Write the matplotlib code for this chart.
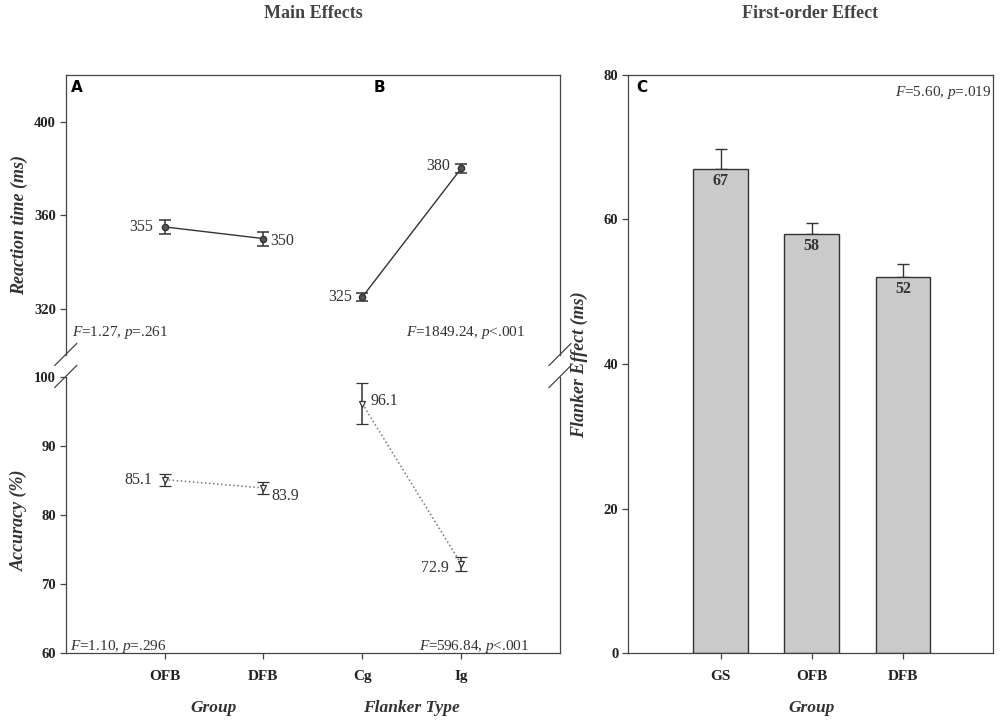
import matplotlib
matplotlib.use("Agg")
import matplotlib.pyplot as plt
import matplotlib.transforms as mtransforms
from matplotlib.lines import Line2D

plt.rcParams['font.family'] = ['Liberation Serif', 'DejaVu Serif']
plt.rcParams['mathtext.fontset'] = 'custom'
plt.rcParams['mathtext.it'] = 'Liberation Serif:italic'
plt.rcParams['mathtext.rm'] = 'Liberation Serif'

# data
left_cats = ["OFB", "DFB", "Cg", "Ig"]
rt_group = [355, 350]
rt_group_err = [2.9, 3.0]
rt_flank = [325, 380]
rt_flank_err = [1.8, 2.1]
acc_group = [85.1, 83.9]
acc_group_err = [0.85, 0.9]
acc_flank = [96.1, 72.9]
acc_flank_err = [3.0, 1.0]

fe_groups = ["GS", "OFB", "DFB"]
fe_vals = [67, 58, 52]
fe_err = [2.7, 1.5, 1.9]

stats_rt = ["$F$=1.27, $p$=.261", "$F$=1849.24, $p$<.001"]
stats_acc = ["$F$=1.10, $p$=.296", "$F$=596.84, $p$<.001"]
stats_fe = "$F$=5.60, $p$=.019"

dark = '#333333'
spine_c = '#444444'

fig = plt.figure(figsize=(10, 7.21), dpi=100)
ax_rt = fig.add_axes([0.0657, 0.507, 0.4943, 0.389])
ax_acc = fig.add_axes([0.0657, 0.0943, 0.4943, 0.3832])
ax_fe = fig.add_axes([0.628, 0.0943, 0.365, 0.8017])

for ax in (ax_rt, ax_acc, ax_fe):
    for s in ax.spines.values():
        s.set_color(spine_c)
        s.set_linewidth(0.9)
    ax.tick_params(axis='y', direction='out', length=4, width=0.9, color=spine_c,
                   labelsize=10.5, pad=3, labelcolor='#222222')
    ax.tick_params(axis='x', direction='out', length=4, width=0.9, color=spine_c,
                   labelsize=11, pad=8, labelcolor='#222222')

# --- reaction time (upper left) ---
xg = [0, 1]
xf = [2, 3]
for xs, ys, es in ((xg, rt_group, rt_group_err), (xf, rt_flank, rt_flank_err)):
    ax_rt.errorbar(xs, ys, yerr=es, fmt='o-', color=dark, lw=1, elinewidth=1.1,
                   capsize=4, capthick=1.1, ms=4.5, mfc='#555555', mec=dark)
ax_rt.set_xlim(-1, 4)
ax_rt.set_ylim(300, 420)
ax_rt.set_yticks([320, 360, 400])
ax_rt.spines['bottom'].set_visible(False)
ax_rt.tick_params(axis='x', bottom=False, labelbottom=False)

# --- accuracy (lower left) ---
for xs, ys, es in ((xg, acc_group, acc_group_err), (xf, acc_flank, acc_flank_err)):
    ax_acc.plot(xs, ys, ls=':', color='#777777', lw=1.1)
    ax_acc.errorbar(xs, ys, yerr=es, fmt='v', color=dark, elinewidth=1.1,
                    capsize=4, capthick=1.1, ms=5, mfc='white', mec=dark, mew=0.9)
ax_acc.set_xlim(-1, 4)
ax_acc.set_ylim(60, 100)
ax_acc.set_yticks([60, 70, 80, 90, 100])
ax_acc.spines['top'].set_visible(False)
ax_acc.set_xticks(range(len(left_cats)))
ax_acc.set_xticklabels(left_cats)

# value labels next to points
rt_off = [(-8, 0, 'right'), (5, -2, 'left'), (-7, 0, 'right'), (-8, 2, 'right')]
acc_off = [(-8.6, 0, 'right'), (5.8, -5.8, 'left'), (5.8, 2, 'left'), (-8.6, -3, 'right')]
for i, v in enumerate(rt_group + rt_flank):
    dx, dy, ha = rt_off[i]
    ax_rt.annotate(str(v), (i, v), xytext=(dx, dy), textcoords='offset points',
                   ha=ha, va='center', fontsize=11.5, color=dark)
for i, v in enumerate(acc_group + acc_flank):
    dx, dy, ha = acc_off[i]
    ax_acc.annotate(str(v), (i, v), xytext=(dx, dy), textcoords='offset points',
                    ha=ha, va='center', fontsize=11.5, color=dark)

ax_rt.text(-0.936, 310, stats_rt[0], ha='left', va='center', fontsize=11, color=dark)
ax_rt.text(3.644, 310, stats_rt[1], ha='right', va='center', fontsize=11, color=dark)
ax_acc.text(-0.956, 61.0, stats_acc[0], ha='left', va='center', fontsize=11, color=dark)
ax_acc.text(3.685, 61.0, stats_acc[1], ha='right', va='center', fontsize=11, color=dark)

# x-axis group labels
blend = mtransforms.blended_transform_factory(ax_acc.transData, fig.transFigure)
ax_acc.text(0.5, 1 - 708 / 721, "Group", transform=blend, ha='center', va='center',
            fontsize=12.5, fontweight='bold', fontstyle='italic', color=dark)
ax_acc.text(2.5, 1 - 708 / 721, "Flanker Type", transform=blend, ha='center', va='center',
            fontsize=12.5, fontweight='bold', fontstyle='italic', color=dark)

# axis break marks
W, H = 1000.0, 721.0
d = 11
for xpx in (65.7, 560):
    for ypx in (354.5, 376.5):
        fig.add_artist(Line2D([(xpx - d) / W, (xpx + d) / W],
                              [1 - (ypx + d) / H, 1 - (ypx - d) / H],
                              transform=fig.transFigure, color=spine_c, lw=0.9))

# --- flanker effect bars (right) ---
xb = list(range(len(fe_groups)))
ax_fe.bar(xb, fe_vals, width=0.6, color='#cacaca', edgecolor=dark, linewidth=1.0, zorder=2)
ax_fe.errorbar(xb, fe_vals, yerr=[[0] * len(fe_err), fe_err], fmt='none', ecolor=dark,
               elinewidth=1.0, capsize=4.3, capthick=1.0, zorder=1)
for x, v in zip(xb, fe_vals):
    ax_fe.text(x, v - 0.55, str(v), ha='center', va='top', fontsize=11.5,
               fontweight='bold', color=dark, zorder=3)
ax_fe.set_xlim(-1.015, 2.985)
ax_fe.set_ylim(0, 80)
ax_fe.set_yticks([0, 20, 40, 60, 80])
ax_fe.set_xticks(xb)
ax_fe.set_xticklabels(fe_groups)
ax_fe.text(2.965, 77.6, stats_fe, ha='right', va='center', fontsize=11, color=dark)
blend2 = mtransforms.blended_transform_factory(ax_fe.transData, fig.transFigure)
ax_fe.text(1, 1 - 708 / 721, "Group", transform=blend2, ha='center', va='center',
           fontsize=12.5, fontweight='bold', fontstyle='italic', color=dark)

for ax in (ax_rt, ax_acc, ax_fe):
    for lab in ax.get_yticklabels() + ax.get_xticklabels():
        lab.set_fontweight('bold')

# y labels
fig.text(0.019, 1 - 225 / H, "Reaction time (ms)", rotation=90, ha='center', va='center',
         fontsize=13, fontweight='bold', fontstyle='italic', color=dark)
fig.text(0.019, 1 - 520 / H, "Accuracy (%)", rotation=90, ha='center', va='center',
         fontsize=13, fontweight='bold', fontstyle='italic', color=dark)
fig.text(0.579, 1 - 365 / H, "Flanker Effect (ms)", rotation=90, ha='center', va='center',
         fontsize=13, fontweight='bold', fontstyle='italic', color=dark)

# panel letters and titles
for letter, xpx in (("A", 71), ("B", 374), ("C", 636)):
    fig.text(xpx / W, 1 - 87 / H, letter, ha='left', va='center', fontsize=11,
             fontweight='heavy', family='DejaVu Sans', color='black')
fig.text(313 / W, 1 - 13 / H, "Main Effects", ha='center', va='center', fontsize=13,
         fontweight='bold', color='#444444')
fig.text(810 / W, 1 - 13 / H, "First-order Effect", ha='center', va='center', fontsize=13,
         fontweight='bold', color='#444444')

fig.savefig("out.png", dpi=100)
